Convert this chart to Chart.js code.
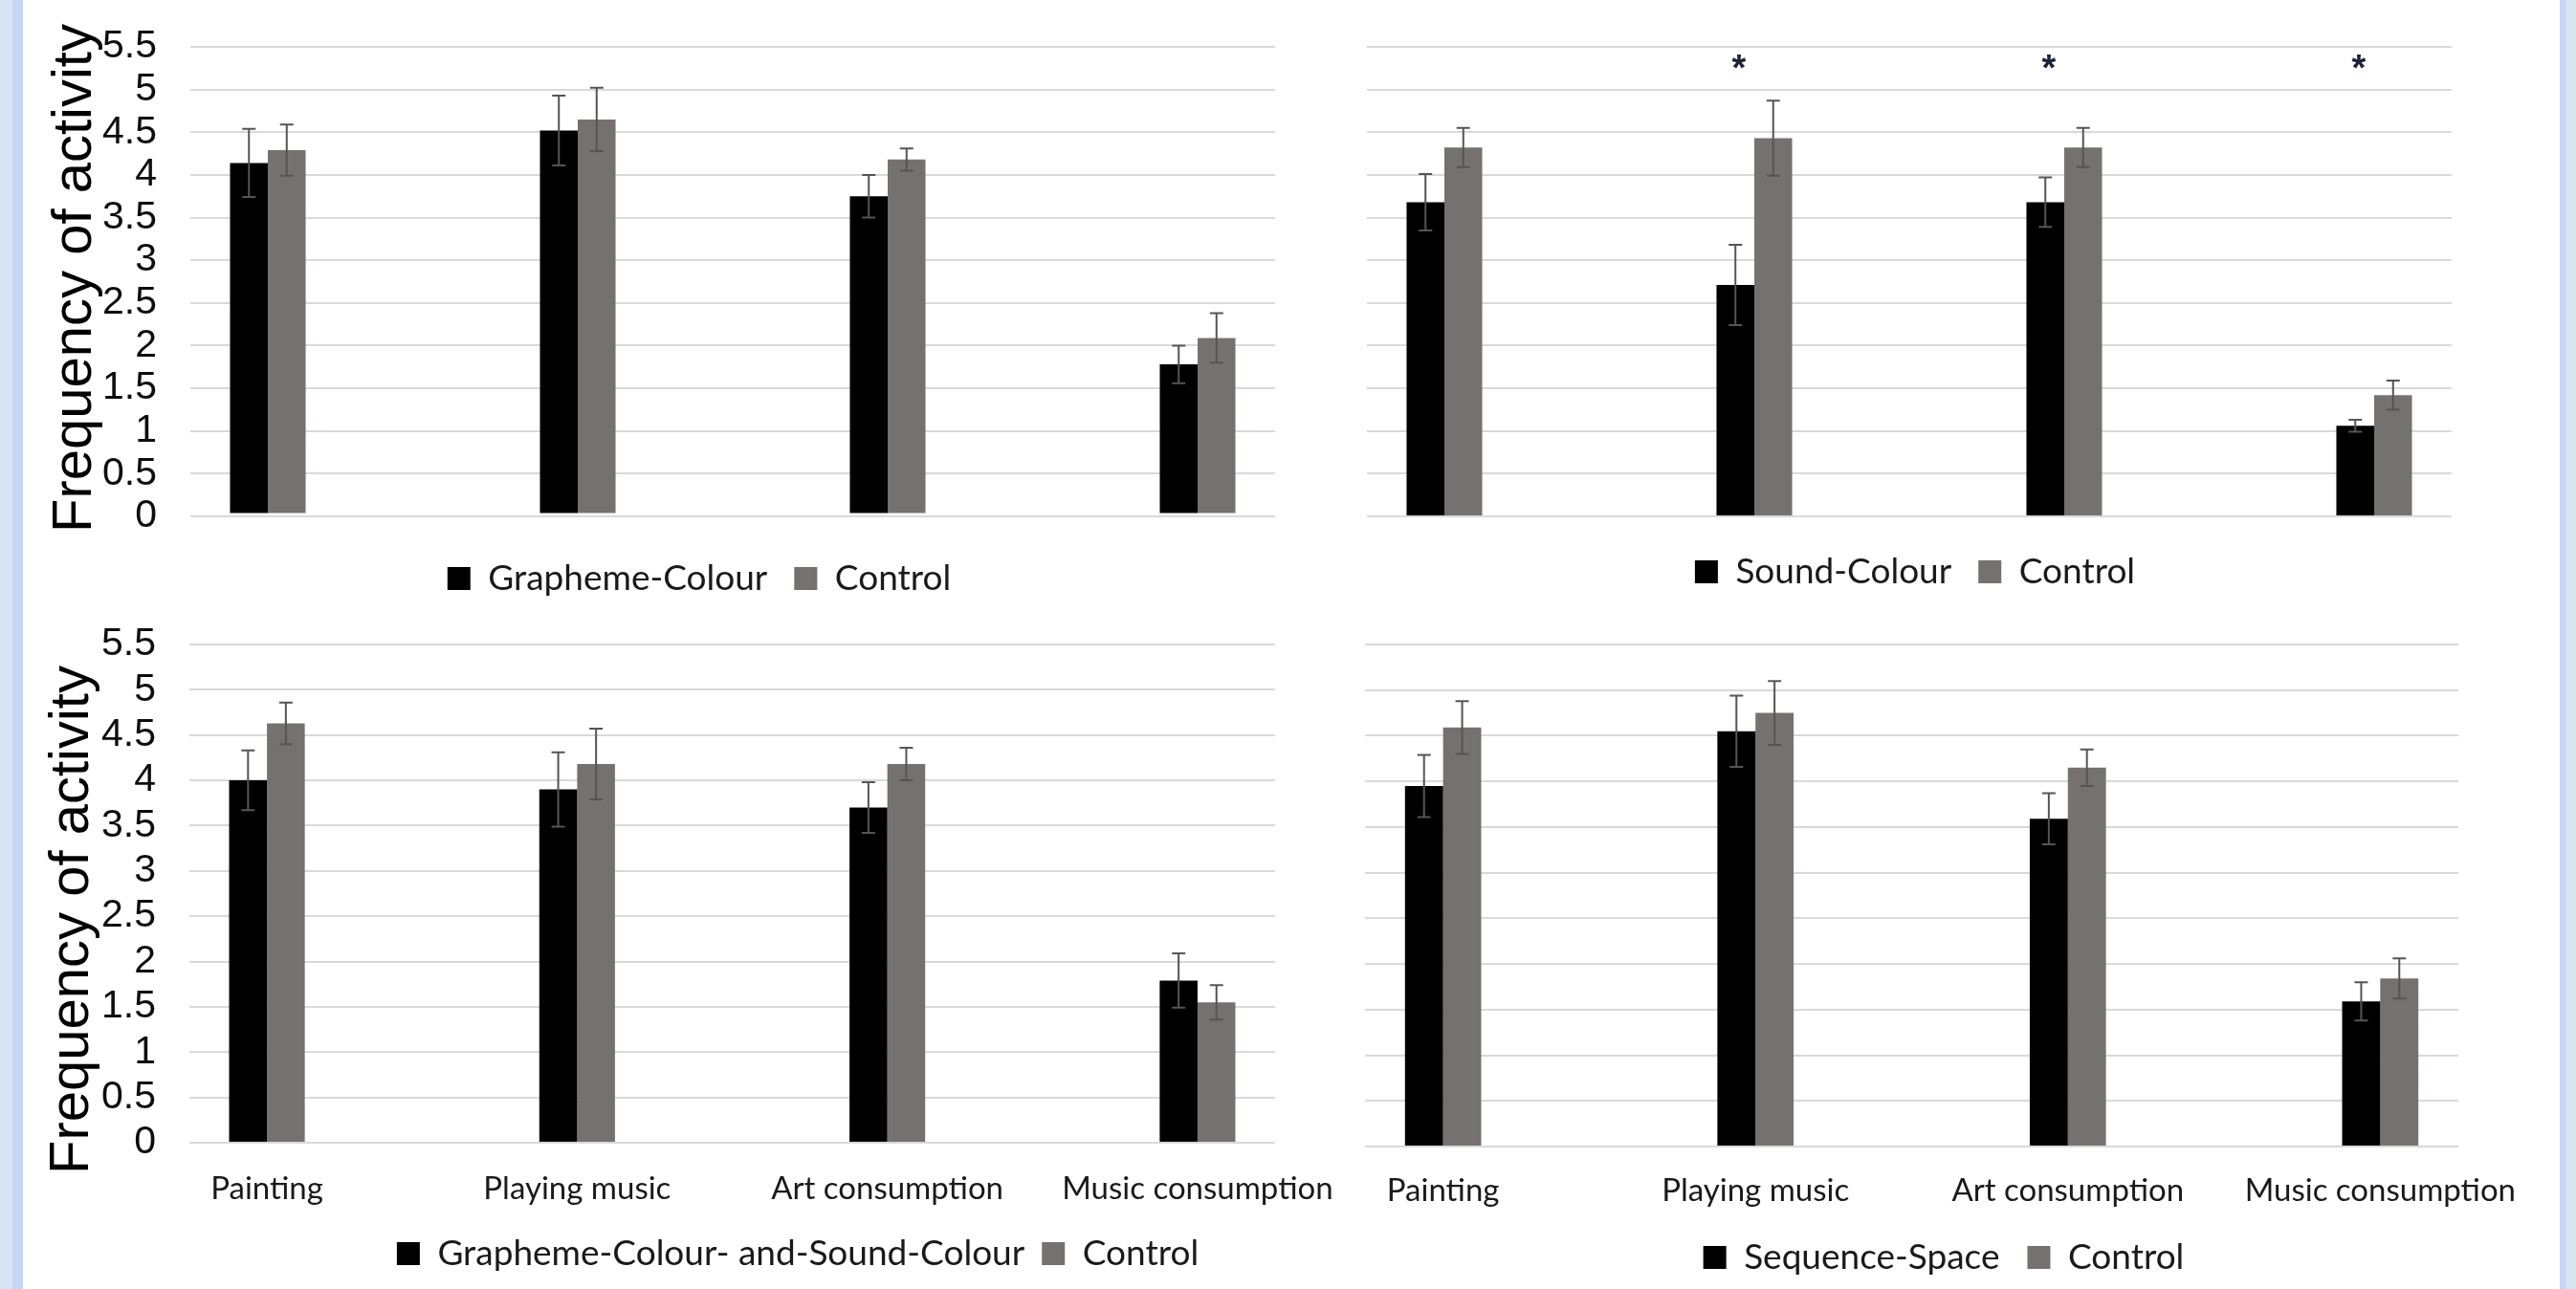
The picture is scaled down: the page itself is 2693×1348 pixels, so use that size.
<!DOCTYPE html>
<html>
<head>
<meta charset="utf-8">
<title>Frequency of activity</title>
<script src="https://cdn.jsdelivr.net/npm/chart.js@4.4.1/dist/chart.umd.min.js"></script>
<style>
  html, body { margin: 0; padding: 0; }
  body { width: 2693px; height: 1348px; position: relative; overflow: hidden; background: #ffffff; }
  .edge { position: absolute; top: 0; height: 1348px; }
  #edgeL { left: 0; width: 24px; background: linear-gradient(to right, #d7e3f3 0 13px, #c6d6f6 13px 24px); }
  #edgeR { left: 2676px; width: 17px; background: linear-gradient(to right, #c6d6f6 0 6px, #d7e3f3 6px 17px); }
  canvas { position: absolute; }
</style>
</head>
<body>
<div class="edge" id="edgeL"></div>
<div class="edge" id="edgeR"></div>
<canvas id="chartGrapheme"></canvas>
<canvas id="chartSound"></canvas>
<canvas id="chartBoth"></canvas>
<canvas id="chartSequence"></canvas>
<script>
// Categories and axis
const categories = ['Painting', 'Playing music', 'Art consumption', 'Music consumption'];
const yMin = 0;
const yMax = 5.5;
const yStep = 0.5;

// Grapheme-Colour vs Control
const graphemeColour = [4.14, 4.52, 3.75, 1.78];
const graphemeColourErr = [0.40, 0.41, 0.25, 0.22];
const graphemeControl = [4.29, 4.65, 4.18, 2.09];
const graphemeControlErr = [0.30, 0.37, 0.13, 0.29];

// Sound-Colour vs Control
const soundColour = [3.68, 2.71, 3.68, 1.06];
const soundColourErr = [0.33, 0.47, 0.29, 0.07];
const soundControl = [4.32, 4.43, 4.32, 1.42];
const soundControlErr = [0.23, 0.44, 0.23, 0.17];
const soundSignificant = [false, true, true, true];

// Grapheme-Colour- and-Sound-Colour vs Control
const bothColour = [4.00, 3.90, 3.70, 1.79];
const bothColourErr = [0.33, 0.41, 0.28, 0.30];
const bothControl = [4.63, 4.18, 4.18, 1.55];
const bothControlErr = [0.23, 0.39, 0.18, 0.19];

// Sequence-Space vs Control
const sequenceSpace = [3.95, 4.55, 3.59, 1.59];
const sequenceSpaceErr = [0.34, 0.39, 0.28, 0.21];
const sequenceControl = [4.59, 4.75, 4.15, 1.84];
const sequenceControlErr = [0.29, 0.35, 0.20, 0.22];

const barBlack = '#000000';
const barGrey = '#767171';
const legendFontSize = 37;

// error bars + significance stars
const marksPlugin = {
  id: 'marks',
  afterDatasetsDraw(chart, args, opts) {
    const ctx = chart.ctx;
    const xs = chart.scales.x;
    const ys = chart.scales.y;
    ctx.save();
    ctx.strokeStyle = '#555555';
    ctx.lineWidth = 2;
    chart.data.datasets.forEach((ds, i) => {
      chart.getDatasetMeta(i).data.forEach((bar, j) => {
        const v = ds.data[j].y;
        const e = ds.errors[j];
        const top = ys.getPixelForValue(v + e);
        const bot = ys.getPixelForValue(v - e);
        ctx.beginPath();
        ctx.moveTo(bar.x, top);
        ctx.lineTo(bar.x, bot);
        ctx.moveTo(bar.x - 7, top);
        ctx.lineTo(bar.x + 7, top);
        ctx.moveTo(bar.x - 7, bot);
        ctx.lineTo(bar.x + 7, bot);
        ctx.stroke();
      });
    });
    if (opts.significant) {
      ctx.fillStyle = '#1e2236';
      ctx.font = 'bold 38px "Liberation Sans"';
      ctx.textAlign = 'center';
      ctx.textBaseline = 'alphabetic';
      opts.significant.forEach((s, i) => {
        if (!s) return;
        ctx.fillText('*', xs.getPixelForValue(i - 0.05), ys.getPixelForValue(5.35) + 22);
      });
    }
    ctx.restore();
  }
};

// move legend and axis title to where the original has them (canvas coordinates)
const placePlugin = {
  id: 'place',
  afterLayout(chart, args, opts) {
    const lg = chart.legend;
    if (lg && opts.legendX != null) {
      const pad = lg.options.labels.padding;
      const dx = opts.legendX - (lg.left + lg.right) / 2;
      const dy = opts.legendY - (lg.top + pad + legendFontSize / 2);
      lg.left += dx; lg.right += dx;
      lg.top += dy; lg.bottom += dy;
    }
    if (opts.titleY != null) {
      const ys = chart.scales.y;
      const dy = opts.titleY - (ys.top + ys.bottom) / 2;
      ys.top += dy; ys.bottom += dy;
    }
  }
};

function points(values) {
  return values.map((v, i) => ({ x: i, y: v }));
}

function makePanel(id, p) {
  const canvas = document.getElementById(id);
  canvas.width = p.box.w;
  canvas.height = p.box.h;
  canvas.style.left = p.box.x + 'px';
  canvas.style.top = p.box.y + 'px';

  const legendH = legendFontSize + p.legendGap + 10;
  const xAxisH = (p.box.y + p.box.h) - p.area.bottom - legendH;

  return new Chart(canvas, {
    type: 'bar',
    data: {
      datasets: [{
        label: p.labels[0],
        data: points(p.values[0]),
        errors: p.errors[0],
        backgroundColor: barBlack,
        borderWidth: 0
      }, {
        label: p.labels[1],
        data: points(p.values[1]),
        errors: p.errors[1],
        backgroundColor: barGrey,
        borderWidth: 0
      }]
    },
    options: {
      responsive: false,
      animation: false,
      devicePixelRatio: 1,
      events: [],
      categoryPercentage: 0.244,
      barPercentage: 1,
      layout: {
        padding: {
          left: 0,
          right: (p.box.x + p.box.w) - p.area.right,
          top: p.area.top - p.box.y,
          bottom: 0
        }
      },
      plugins: {
        tooltip: { enabled: false },
        legend: {
          position: 'bottom',
          labels: {
            boxWidth: 24,
            boxHeight: 24,
            padding: p.legendGap,
            color: '#1a1a1a',
            font: { family: 'Lato', size: legendFontSize }
          }
        },
        marks: { significant: p.significant || null },
        place: {
          legendX: p.legendX - p.box.x,
          legendY: p.legendY - p.box.y,
          titleY: p.titleY != null ? p.titleY - p.box.y : null
        }
      },
      scales: {
        x: {
          type: 'linear',
          min: -0.25,
          max: 3.25,
          offset: false,
          afterBuildTicks: s => { s.ticks = categories.map((c, i) => ({ value: i })); },
          afterFit: s => { s.height = xAxisH; },
          grid: { display: false, drawTicks: false },
          border: { display: false },
          ticks: {
            display: p.showX,
            padding: p.xPad || 0,
            autoSkip: false,
            maxRotation: 0,
            color: '#1a1a1a',
            font: { family: 'Lato', size: 33 },
            callback: v => categories[v]
          }
        },
        y: {
          min: yMin,
          max: yMax,
          afterFit: s => { s.width = p.area.left - p.box.x; },
          grid: {
            color: '#d9d9d9',
            lineWidth: 2,
            drawTicks: p.showY,
            tickLength: 35,
            tickColor: 'rgba(0,0,0,0)'
          },
          border: { display: false },
          ticks: {
            display: p.showY,
            stepSize: yStep,
            autoSkip: false,
            padding: 0,
            color: '#0d0d0d',
            font: { family: 'Liberation Sans', size: 41 },
            callback: v => String(v)
          },
          title: {
            display: p.showY,
            text: 'Frequency of activity',
            color: '#000000',
            font: { family: 'Liberation Sans', size: 58 },
            padding: { top: (p.titleX || 0) - 34.8, bottom: 0 }
          }
        }
      }
    },
    plugins: [marksPlugin, placePlugin]
  });
}

makePanel('chartGrapheme', {
  box: { x: 0, y: 0, w: 1346, h: 650 },
  area: { left: 199, top: 49, right: 1333, bottom: 540 },
  labels: ['Grapheme-Colour', 'Control'],
  values: [graphemeColour, graphemeControl],
  errors: [graphemeColourErr, graphemeControlErr],
  showY: true, showX: false,
  titleX: 79, titleY: 291,
  legendGap: 28, legendX: 731, legendY: 605
});

makePanel('chartSound', {
  box: { x: 1346, y: 0, w: 1347, h: 650 },
  area: { left: 1429, top: 49, right: 2563, bottom: 540 },
  labels: ['Sound-Colour', 'Control'],
  values: [soundColour, soundControl],
  errors: [soundColourErr, soundControlErr],
  significant: soundSignificant,
  showY: false, showX: false,
  legendGap: 28, legendX: 2002, legendY: 598
});

makePanel('chartBoth', {
  box: { x: 0, y: 630, w: 1460, h: 718 },
  area: { left: 198, top: 674, right: 1333, bottom: 1195 },
  labels: ['Grapheme-Colour- and-Sound-Colour', 'Control'],
  values: [bothColour, bothControl],
  errors: [bothColourErr, bothControlErr],
  showY: true, showX: true, xPad: 29,
  titleX: 76, titleY: 962,
  legendGap: 18, legendX: 834, legendY: 1311
});

makePanel('chartSequence', {
  box: { x: 1346, y: 630, w: 1347, h: 718 },
  area: { left: 1427, top: 674, right: 2570, bottom: 1199 },
  labels: ['Sequence-Space', 'Control'],
  values: [sequenceSpace, sequenceControl],
  errors: [sequenceSpaceErr, sequenceControlErr],
  showY: false, showX: true, xPad: 27,
  legendGap: 29, legendX: 2032, legendY: 1315
});
</script>
</body>
</html>
